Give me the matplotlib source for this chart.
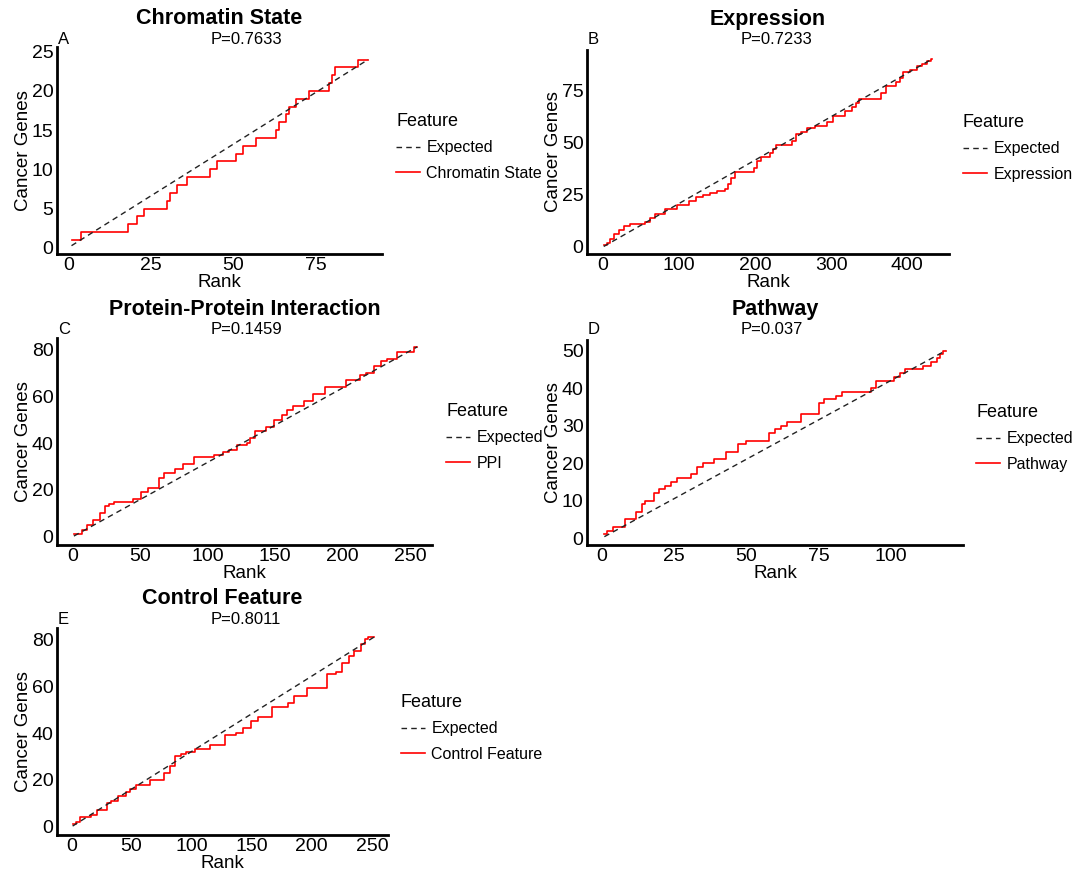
import matplotlib
matplotlib.use('Agg')
import matplotlib.pyplot as plt
from matplotlib.lines import Line2D

plt.rcParams['font.family'] = ['Liberation Sans', 'DejaVu Sans']

# ---- data: step points of cumulative cancer genes by rank ----
# A - Chromatin State
rank_A = [1, 4, 18, 21, 23, 30, 31, 33, 36, 43, 45, 51, 53, 57, 63, 64, 66, 67, 69, 73, 79, 80, 81, 88, 91]
genes_A = [1, 2, 3, 4, 5, 6, 7, 8, 9, 10, 11, 12, 13, 14, 15, 16, 17, 18, 19, 20, 21, 22, 23, 24, 24]
exp_rank_A = [1, 91]
exp_genes_A = [0.26, 24]

# B - Expression
rank_B = [1, 5, 9, 14, 21, 28, 35, 55, 62, 69, 81, 97, 113, 122, 131, 141, 150, 160, 164, 168, 173,
          198, 203, 208, 219, 224, 228, 249, 254, 260, 268, 279, 295, 302, 318, 328, 333, 337, 365,
          372, 385, 390, 395, 404, 413, 420, 426, 431, 432]
genes_B = [1, 2, 4, 6, 8, 10, 11, 12, 14, 16, 18, 20, 22, 24, 25, 26, 27, 28, 30, 33, 36,
           38, 41, 43, 45, 47, 49, 51, 54, 55, 57, 58, 60, 63, 65, 67, 69, 71, 74,
           77, 79, 81, 84, 85, 87, 88, 89, 90, 90]
exp_rank_B = [1, 432]
exp_genes_B = [0.21, 90]

# C - Protein-Protein Interaction
rank_C = [1, 7, 11, 15, 20, 24, 27, 31, 45, 51, 56, 64, 68, 76, 82, 90, 105, 111, 116, 122, 129,
          131, 135, 143, 149, 155, 159, 163, 171, 178, 187, 202, 213, 217, 223, 228, 233, 240, 253, 255]
genes_C = [1, 3, 5, 7, 10, 13, 14, 15, 16, 19, 21, 25, 27, 29, 31, 34, 35, 36, 37, 39, 40,
           42, 45, 47, 50, 52, 54, 56, 58, 61, 64, 67, 69, 70, 73, 75, 76, 79, 81, 81]
exp_rank_C = [1, 255]
exp_genes_C = [0.32, 81]

# D - Pathway
rank_D = [1, 2, 4, 8, 12, 14, 15, 18, 20, 22, 24, 26, 31, 33, 35, 39, 43, 47, 50, 58, 60, 62, 64,
          69, 75, 77, 81, 83, 93, 95, 101, 103, 105, 111, 114, 116, 117, 118, 119]
genes_D = [1, 2, 3, 5, 7, 9, 10, 12, 13, 14, 15, 16, 17, 19, 20, 21, 23, 25, 26, 28, 29, 30, 31,
           33, 36, 37, 38, 39, 40, 42, 43, 44, 45, 46, 47, 48, 49, 50, 50]
exp_rank_D = [1, 119]
exp_genes_D = [0.42, 50]

# E - Control Feature
rank_E = [1, 4, 7, 16, 21, 30, 33, 39, 45, 49, 54, 65, 77, 82, 86, 91, 95, 103, 115, 128, 137,
          143, 149, 155, 167, 180, 185, 196, 213, 220, 225, 231, 235, 241, 244, 247, 252]
genes_E = [1, 2, 4, 5, 7, 10, 11, 13, 15, 16, 18, 20, 23, 26, 30, 31, 32, 33, 35, 39, 40,
           42, 45, 47, 51, 53, 56, 59, 65, 66, 70, 73, 75, 78, 80, 81, 81]
exp_rank_E = [1, 252]
exp_genes_E = [0.32, 81]

titles = ['Chromatin State', 'Expression', 'Protein-Protein Interaction', 'Pathway', 'Control Feature']
feature_names = ['Chromatin State', 'Expression', 'PPI', 'Pathway', 'Control Feature']
letters = ['A', 'B', 'C', 'D', 'E']
pvalues = ['P=0.7633', 'P=0.7233', 'P=0.1459', 'P=0.037', 'P=0.8011']
xticks = [[0, 25, 50, 75], [0, 100, 200, 300, 400], [0, 50, 100, 150, 200, 250],
          [0, 25, 50, 75, 100], [0, 50, 100, 150, 200, 250]]
yticks = [[0, 5, 10, 15, 20, 25], [0, 25, 50, 75], [0, 20, 40, 60, 80],
          [0, 10, 20, 30, 40, 50], [0, 20, 40, 60, 80]]

series = [(rank_A, genes_A, exp_rank_A, exp_genes_A),
          (rank_B, genes_B, exp_rank_B, exp_genes_B),
          (rank_C, genes_C, exp_rank_C, exp_genes_C),
          (rank_D, genes_D, exp_rank_D, exp_genes_D),
          (rank_E, genes_E, exp_rank_E, exp_genes_E)]

# ---- layout (pixels) ----
W, H = 1084, 873
# left, top, right, bottom of each axes
boxes = [(57, 47, 382, 254), (587, 50, 949, 254), (57, 338, 432, 545),
         (587, 340, 963, 545), (57, 628, 388, 835)]
xlims = [(-3.4, 95.2), (-21, 455), (-11.5, 266), (-5, 124.9), (-12, 263.4)]
ylims = [(-0.8, 25.6), (-3.4, 94.5), (-3.5, 84.8), (-1.8, 52.8), (-3.5, 84.8)]
title_y = [19, 19, 309, 309, 599]
p_x = [246, 776, 247, 772, 246]
legend_x = [396, 963, 446, 976, 401]
legend_top = [113, 114, 403, 404, 694]

fig = plt.figure(figsize=(W / 100, H / 100), dpi=100)


def fx(px):
    return px / W


def fy(py):
    return 1 - py / H


for i in range(5):
    l, t, r, b = boxes[i]
    ax = fig.add_axes([fx(l), fy(b), (r - l) / W, (b - t) / H])
    rk, gn, erk, egn = series[i]
    ax.step(rk, gn, where='post', color='red', lw=1.2)
    ax.plot(erk, egn, color='#222222', lw=1.0, ls=(0, (4, 3)))
    ax.set_xlim(xlims[i])
    ax.set_ylim(ylims[i])
    ax.set_xticks(xticks[i])
    ax.set_yticks(yticks[i])
    for s in ['top', 'right']:
        ax.spines[s].set_visible(False)
    for s in ['left', 'bottom']:
        ax.spines[s].set_linewidth(2.0)
    ax.tick_params(axis='y', length=0, labelsize=14, pad=2.5, colors='black')
    ax.tick_params(axis='x', length=0, labelsize=14, pad=2, colors='black')
    ax.set_xlabel('Rank', fontsize=13.5, labelpad=0)
    ax.set_ylabel('Cancer Genes', fontsize=13.5, labelpad=0)

    cx = (l + r) / 2
    fig.text(fx(cx), fy(title_y[i]), titles[i], ha='center', va='center',
             fontsize=15.5, fontweight='bold')
    fig.text(fx(p_x[i]), fy(title_y[i] + 20), pvalues[i], ha='center', va='center', fontsize=12)
    fig.text(fx(l + 1), fy(title_y[i] + 20), letters[i], ha='left', va='center', fontsize=12)

    handles = [Line2D([], [], color='#222222', lw=1.0, ls=(0, (4, 3))),
               Line2D([], [], color='red', lw=1.2)]
    ax.legend(handles, ['Expected', feature_names[i]], title='Feature',
              loc='upper left', bbox_to_anchor=(fx(legend_x[i]), fy(legend_top[i])),
              bbox_transform=fig.transFigure, frameon=False, alignment='left',
              fontsize=11.5, title_fontsize=13, handlelength=1.5, handletextpad=0.4,
              labelspacing=0.65, borderpad=0, borderaxespad=0)

fig.savefig('out.png', dpi=100)
